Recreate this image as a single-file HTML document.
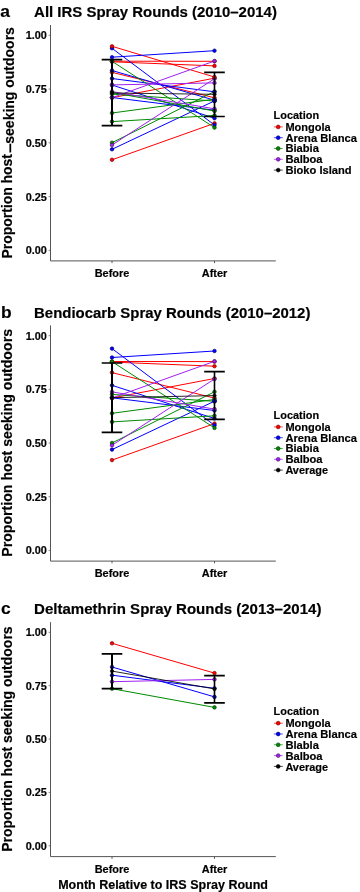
<!DOCTYPE html>
<html><head><meta charset="utf-8"><title>Figure</title>
<style>
html,body{margin:0;padding:0;background:#fff}
svg{display:block}
text{font-family:"Liberation Sans",sans-serif;font-weight:bold;fill:#000;stroke:#000;stroke-width:0.18px}
</style></head><body>
<svg width="360" height="892" viewBox="0 0 360 892">
<rect width="360" height="892" fill="#fff"/>
<text x="0.2" y="17.3" font-size="17.4">a</text>
<text x="34.1" y="17.3" font-size="14.5" textLength="242.8" lengthAdjust="spacingAndGlyphs">All IRS Spray Rounds (2010–2014)</text>
<path d="M50.5 25V260.9H275.8" stroke="#555555" stroke-width="1" fill="none"/>
<line x1="48.6" x2="50" y1="250.3" y2="250.3" stroke="#8a8a8a" stroke-width="1"/>
<text x="46.9" y="254.2" text-anchor="end" font-size="10.3" textLength="21.2" lengthAdjust="spacingAndGlyphs">0.00</text>
<line x1="48.6" x2="50" y1="196.6" y2="196.6" stroke="#8a8a8a" stroke-width="1"/>
<text x="46.9" y="200.5" text-anchor="end" font-size="10.3" textLength="21.2" lengthAdjust="spacingAndGlyphs">0.25</text>
<line x1="48.6" x2="50" y1="142.8" y2="142.8" stroke="#8a8a8a" stroke-width="1"/>
<text x="46.9" y="146.7" text-anchor="end" font-size="10.3" textLength="21.2" lengthAdjust="spacingAndGlyphs">0.50</text>
<line x1="48.6" x2="50" y1="89.1" y2="89.1" stroke="#8a8a8a" stroke-width="1"/>
<text x="46.9" y="93.0" text-anchor="end" font-size="10.3" textLength="21.2" lengthAdjust="spacingAndGlyphs">0.75</text>
<line x1="48.6" x2="50" y1="35.3" y2="35.3" stroke="#8a8a8a" stroke-width="1"/>
<text x="46.9" y="39.2" text-anchor="end" font-size="10.3" textLength="21.2" lengthAdjust="spacingAndGlyphs">1.00</text>
<line x1="112.0" x2="112.0" y1="260.9" y2="263.09999999999997" stroke="#555555" stroke-width="1"/>
<line x1="214.5" x2="214.5" y1="260.9" y2="263.09999999999997" stroke="#555555" stroke-width="1"/>
<text x="112.0" y="277.0" text-anchor="middle" font-size="10.4" textLength="34.6" lengthAdjust="spacingAndGlyphs">Before</text>
<text x="214.5" y="277.0" text-anchor="middle" font-size="10.4" textLength="25.5" lengthAdjust="spacingAndGlyphs">After</text>
<text transform="translate(11.9 258.5) rotate(-90)" font-size="13.9" textLength="104.4" lengthAdjust="spacingAndGlyphs">Proportion host</text>
<text transform="translate(15.3 153.3) rotate(-90)" font-size="13.9" textLength="9.8" lengthAdjust="spacingAndGlyphs">−</text>
<text transform="translate(14.1 143.7) rotate(-90)" font-size="13.9" textLength="116.6" lengthAdjust="spacingAndGlyphs">seeking outdoors</text>
<line x1="112.0" y1="46.3" x2="214.5" y2="77.0" stroke="#ff0000" stroke-width="1.0"/>
<line x1="112.0" y1="61.2" x2="214.5" y2="61.3" stroke="#ff0000" stroke-width="1.0"/>
<line x1="112.0" y1="61.8" x2="214.5" y2="65.9" stroke="#ff0000" stroke-width="1.0"/>
<line x1="112.0" y1="72.3" x2="214.5" y2="97.8" stroke="#ff0000" stroke-width="1.0"/>
<line x1="112.0" y1="97.7" x2="214.5" y2="78.2" stroke="#ff0000" stroke-width="1.0"/>
<line x1="112.0" y1="159.8" x2="214.5" y2="123.3" stroke="#ff0000" stroke-width="1.0"/>
<line x1="112.0" y1="48.3" x2="214.5" y2="125.0" stroke="#0000ff" stroke-width="1.0"/>
<line x1="112.0" y1="57.2" x2="214.5" y2="50.7" stroke="#0000ff" stroke-width="1.0"/>
<line x1="112.0" y1="70.5" x2="214.5" y2="100.2" stroke="#0000ff" stroke-width="1.0"/>
<line x1="112.0" y1="78.5" x2="214.5" y2="91.8" stroke="#0000ff" stroke-width="1.0"/>
<line x1="112.0" y1="85.0" x2="214.5" y2="118.2" stroke="#0000ff" stroke-width="1.0"/>
<line x1="112.0" y1="97.5" x2="214.5" y2="110.2" stroke="#0000ff" stroke-width="1.0"/>
<line x1="112.0" y1="149.3" x2="214.5" y2="100.9" stroke="#0000ff" stroke-width="1.0"/>
<line x1="112.0" y1="61.3" x2="214.5" y2="127.6" stroke="#008b00" stroke-width="1.0"/>
<line x1="112.0" y1="92.5" x2="214.5" y2="111.0" stroke="#008b00" stroke-width="1.0"/>
<line x1="112.0" y1="94.1" x2="214.5" y2="101.0" stroke="#008b00" stroke-width="1.0"/>
<line x1="112.0" y1="113.0" x2="214.5" y2="99.2" stroke="#008b00" stroke-width="1.0"/>
<line x1="112.0" y1="121.6" x2="214.5" y2="115.5" stroke="#008b00" stroke-width="1.0"/>
<line x1="112.0" y1="142.7" x2="214.5" y2="91.5" stroke="#008b00" stroke-width="1.0"/>
<line x1="112.0" y1="84.9" x2="214.5" y2="82.9" stroke="#a020f0" stroke-width="1.0"/>
<line x1="112.0" y1="91.6" x2="214.5" y2="108.8" stroke="#a020f0" stroke-width="1.0"/>
<line x1="112.0" y1="97.7" x2="214.5" y2="61.0" stroke="#a020f0" stroke-width="1.0"/>
<line x1="112.0" y1="145.0" x2="214.5" y2="78.7" stroke="#a020f0" stroke-width="1.0"/>
<circle cx="112.0" cy="61.2" r="1.8" fill="#ff0000" stroke="#6a0000" stroke-width="0.6"/><circle cx="214.5" cy="61.3" r="1.8" fill="#ff0000" stroke="#6a0000" stroke-width="0.6"/>
<circle cx="112.0" cy="61.8" r="1.8" fill="#ff0000" stroke="#6a0000" stroke-width="0.6"/><circle cx="214.5" cy="65.9" r="1.8" fill="#ff0000" stroke="#6a0000" stroke-width="0.6"/>
<circle cx="112.0" cy="72.3" r="1.8" fill="#ff0000" stroke="#6a0000" stroke-width="0.6"/><circle cx="214.5" cy="97.8" r="1.8" fill="#ff0000" stroke="#6a0000" stroke-width="0.6"/>
<circle cx="112.0" cy="97.7" r="1.8" fill="#ff0000" stroke="#6a0000" stroke-width="0.6"/><circle cx="214.5" cy="78.2" r="1.8" fill="#ff0000" stroke="#6a0000" stroke-width="0.6"/>
<circle cx="112.0" cy="159.8" r="1.8" fill="#ff0000" stroke="#6a0000" stroke-width="0.6"/><circle cx="214.5" cy="123.3" r="1.8" fill="#ff0000" stroke="#6a0000" stroke-width="0.6"/>
<circle cx="112.0" cy="48.3" r="1.8" fill="#0000ff" stroke="#00006a" stroke-width="0.6"/><circle cx="214.5" cy="125.0" r="1.8" fill="#0000ff" stroke="#00006a" stroke-width="0.6"/>
<circle cx="112.0" cy="57.2" r="1.8" fill="#0000ff" stroke="#00006a" stroke-width="0.6"/><circle cx="214.5" cy="50.7" r="1.8" fill="#0000ff" stroke="#00006a" stroke-width="0.6"/>
<circle cx="112.0" cy="85.0" r="1.8" fill="#0000ff" stroke="#00006a" stroke-width="0.6"/><circle cx="214.5" cy="118.2" r="1.8" fill="#0000ff" stroke="#00006a" stroke-width="0.6"/>
<circle cx="112.0" cy="97.5" r="1.8" fill="#0000ff" stroke="#00006a" stroke-width="0.6"/><circle cx="214.5" cy="110.2" r="1.8" fill="#0000ff" stroke="#00006a" stroke-width="0.6"/>
<circle cx="112.0" cy="149.3" r="1.8" fill="#0000ff" stroke="#00006a" stroke-width="0.6"/><circle cx="214.5" cy="100.9" r="1.8" fill="#0000ff" stroke="#00006a" stroke-width="0.6"/>
<circle cx="112.0" cy="61.3" r="1.8" fill="#008b00" stroke="#003400" stroke-width="0.6"/><circle cx="214.5" cy="127.6" r="1.8" fill="#008b00" stroke="#003400" stroke-width="0.6"/>
<circle cx="112.0" cy="94.1" r="1.8" fill="#008b00" stroke="#003400" stroke-width="0.6"/><circle cx="214.5" cy="101.0" r="1.8" fill="#008b00" stroke="#003400" stroke-width="0.6"/>
<circle cx="112.0" cy="113.0" r="1.8" fill="#008b00" stroke="#003400" stroke-width="0.6"/><circle cx="214.5" cy="99.2" r="1.8" fill="#008b00" stroke="#003400" stroke-width="0.6"/>
<circle cx="112.0" cy="121.6" r="1.8" fill="#008b00" stroke="#003400" stroke-width="0.6"/><circle cx="214.5" cy="115.5" r="1.8" fill="#008b00" stroke="#003400" stroke-width="0.6"/>
<circle cx="112.0" cy="142.7" r="1.8" fill="#008b00" stroke="#003400" stroke-width="0.6"/><circle cx="214.5" cy="91.5" r="1.8" fill="#008b00" stroke="#003400" stroke-width="0.6"/>
<circle cx="112.0" cy="91.6" r="1.8" fill="#a020f0" stroke="#430d66" stroke-width="0.6"/><circle cx="214.5" cy="108.8" r="1.8" fill="#a020f0" stroke="#430d66" stroke-width="0.6"/>
<circle cx="112.0" cy="97.7" r="1.8" fill="#a020f0" stroke="#430d66" stroke-width="0.6"/><circle cx="214.5" cy="61.0" r="1.8" fill="#a020f0" stroke="#430d66" stroke-width="0.6"/>
<circle cx="112.0" cy="145.0" r="1.8" fill="#a020f0" stroke="#430d66" stroke-width="0.6"/><circle cx="214.5" cy="78.7" r="1.8" fill="#a020f0" stroke="#430d66" stroke-width="0.6"/>
<circle cx="112.0" cy="46.3" r="1.8" fill="#ff0000" stroke="#6a0000" stroke-width="0.6"/><circle cx="214.5" cy="77.0" r="1.8" fill="#ff0000" stroke="#6a0000" stroke-width="0.6"/>
<circle cx="112.0" cy="70.5" r="1.8" fill="#0000ff" stroke="#00006a" stroke-width="0.6"/><circle cx="214.5" cy="100.2" r="1.8" fill="#0000ff" stroke="#00006a" stroke-width="0.6"/>
<circle cx="112.0" cy="78.5" r="1.8" fill="#0000ff" stroke="#00006a" stroke-width="0.6"/><circle cx="214.5" cy="91.8" r="1.8" fill="#0000ff" stroke="#00006a" stroke-width="0.6"/>
<circle cx="112.0" cy="92.5" r="1.8" fill="#008b00" stroke="#003400" stroke-width="0.6"/><circle cx="214.5" cy="111.0" r="1.8" fill="#008b00" stroke="#003400" stroke-width="0.6"/>
<circle cx="112.0" cy="84.9" r="1.8" fill="#a020f0" stroke="#430d66" stroke-width="0.6"/><circle cx="214.5" cy="82.9" r="1.8" fill="#a020f0" stroke="#430d66" stroke-width="0.6"/>
<circle cx="214.5" cy="100.4" r="2.0" fill="#0000ff" stroke="#00006a" stroke-width="0.6"/>
<line x1="112.0" y1="93.0" x2="214.5" y2="94.3" stroke="#000" stroke-width="0.85"/>
<circle cx="112.0" cy="93.0" r="1.7" fill="#000000" stroke="#000" stroke-width="0.6"/><circle cx="214.5" cy="94.3" r="1.7" fill="#000000" stroke="#000" stroke-width="0.6"/>
<path d="M101.7 59.7H122.3M101.7 125.7H122.3" stroke="#000" stroke-width="1.7" fill="none"/>
<path d="M112.0 59.7V125.7" stroke="#000" stroke-width="2.0" fill="none"/>
<path d="M204.2 72.3H224.8M204.2 116.5H224.8" stroke="#000" stroke-width="1.7" fill="none"/>
<path d="M214.5 72.3V116.5" stroke="#000" stroke-width="1.6" fill="none"/>
<text x="273.6" y="118.6" font-size="11" textLength="45.5" lengthAdjust="spacingAndGlyphs">Location</text>
<line x1="273.9" x2="282.8" y1="126.9" y2="126.9" stroke="#ff0000" stroke-width="0.7"/><circle cx="278.2" cy="126.9" r="1.9" fill="#ff0000" stroke="#6a0000" stroke-width="0.6"/>
<text x="285.4" y="130.6" font-size="11" textLength="45.2" lengthAdjust="spacingAndGlyphs">Mongola</text>
<line x1="273.9" x2="282.8" y1="137.7" y2="137.7" stroke="#0000ff" stroke-width="0.7"/><circle cx="278.2" cy="137.7" r="1.9" fill="#0000ff" stroke="#00006a" stroke-width="0.6"/>
<text x="285.4" y="141.5" font-size="11" textLength="71.6" lengthAdjust="spacingAndGlyphs">Arena Blanca</text>
<line x1="273.9" x2="282.8" y1="148.5" y2="148.5" stroke="#008b00" stroke-width="0.7"/><circle cx="278.2" cy="148.5" r="1.9" fill="#008b00" stroke="#003400" stroke-width="0.6"/>
<text x="285.4" y="152.4" font-size="11" textLength="33.5" lengthAdjust="spacingAndGlyphs">Biabia</text>
<line x1="273.9" x2="282.8" y1="159.3" y2="159.3" stroke="#a020f0" stroke-width="0.7"/><circle cx="278.2" cy="159.3" r="1.9" fill="#a020f0" stroke="#430d66" stroke-width="0.6"/>
<text x="285.4" y="163.3" font-size="11" textLength="37.2" lengthAdjust="spacingAndGlyphs">Balboa</text>
<line x1="273.9" x2="282.8" y1="170.1" y2="170.1" stroke="#000000" stroke-width="0.7"/><circle cx="278.2" cy="170.1" r="1.9" fill="#000000" stroke="#000" stroke-width="0.6"/>
<text x="285.4" y="174.2" font-size="11" textLength="66.2" lengthAdjust="spacingAndGlyphs">Bioko Island</text>
<text x="0.9" y="317.5" font-size="17.4">b</text>
<text x="34.1" y="317.5" font-size="14.5" textLength="276.3" lengthAdjust="spacingAndGlyphs">Bendiocarb Spray Rounds (2010–2012)</text>
<path d="M50.5 325.4V561.1H275.8" stroke="#555555" stroke-width="1" fill="none"/>
<line x1="48.6" x2="50" y1="550.4" y2="550.4" stroke="#8a8a8a" stroke-width="1"/>
<text x="46.9" y="554.3" text-anchor="end" font-size="10.3" textLength="21.2" lengthAdjust="spacingAndGlyphs">0.00</text>
<line x1="48.6" x2="50" y1="496.7" y2="496.7" stroke="#8a8a8a" stroke-width="1"/>
<text x="46.9" y="500.6" text-anchor="end" font-size="10.3" textLength="21.2" lengthAdjust="spacingAndGlyphs">0.25</text>
<line x1="48.6" x2="50" y1="443.0" y2="443.0" stroke="#8a8a8a" stroke-width="1"/>
<text x="46.9" y="446.9" text-anchor="end" font-size="10.3" textLength="21.2" lengthAdjust="spacingAndGlyphs">0.50</text>
<line x1="48.6" x2="50" y1="389.4" y2="389.4" stroke="#8a8a8a" stroke-width="1"/>
<text x="46.9" y="393.3" text-anchor="end" font-size="10.3" textLength="21.2" lengthAdjust="spacingAndGlyphs">0.75</text>
<line x1="48.6" x2="50" y1="335.7" y2="335.7" stroke="#8a8a8a" stroke-width="1"/>
<text x="46.9" y="339.6" text-anchor="end" font-size="10.3" textLength="21.2" lengthAdjust="spacingAndGlyphs">1.00</text>
<line x1="112.0" x2="112.0" y1="561.1" y2="563.3000000000001" stroke="#555555" stroke-width="1"/>
<line x1="214.5" x2="214.5" y1="561.1" y2="563.3000000000001" stroke="#555555" stroke-width="1"/>
<text x="112.0" y="577.2" text-anchor="middle" font-size="10.4" textLength="34.6" lengthAdjust="spacingAndGlyphs">Before</text>
<text x="214.5" y="577.2" text-anchor="middle" font-size="10.4" textLength="25.5" lengthAdjust="spacingAndGlyphs">After</text>
<text transform="translate(11.9 442.9) rotate(-90)" text-anchor="middle" font-size="13.9" textLength="227.8" lengthAdjust="spacingAndGlyphs">Proportion host seeking outdoors</text>
<line x1="112.0" y1="361.5" x2="214.5" y2="361.6" stroke="#ff0000" stroke-width="1.0"/>
<line x1="112.0" y1="362.1" x2="214.5" y2="366.2" stroke="#ff0000" stroke-width="1.0"/>
<line x1="112.0" y1="372.6" x2="214.5" y2="398.1" stroke="#ff0000" stroke-width="1.0"/>
<line x1="112.0" y1="398.0" x2="214.5" y2="378.5" stroke="#ff0000" stroke-width="1.0"/>
<line x1="112.0" y1="460.1" x2="214.5" y2="423.6" stroke="#ff0000" stroke-width="1.0"/>
<line x1="112.0" y1="348.6" x2="214.5" y2="425.3" stroke="#0000ff" stroke-width="1.0"/>
<line x1="112.0" y1="357.5" x2="214.5" y2="351.0" stroke="#0000ff" stroke-width="1.0"/>
<line x1="112.0" y1="385.3" x2="214.5" y2="418.5" stroke="#0000ff" stroke-width="1.0"/>
<line x1="112.0" y1="397.8" x2="214.5" y2="410.5" stroke="#0000ff" stroke-width="1.0"/>
<line x1="112.0" y1="449.6" x2="214.5" y2="401.2" stroke="#0000ff" stroke-width="1.0"/>
<line x1="112.0" y1="361.6" x2="214.5" y2="427.9" stroke="#008b00" stroke-width="1.0"/>
<line x1="112.0" y1="394.4" x2="214.5" y2="401.3" stroke="#008b00" stroke-width="1.0"/>
<line x1="112.0" y1="413.3" x2="214.5" y2="399.5" stroke="#008b00" stroke-width="1.0"/>
<line x1="112.0" y1="421.9" x2="214.5" y2="415.8" stroke="#008b00" stroke-width="1.0"/>
<line x1="112.0" y1="443.0" x2="214.5" y2="391.8" stroke="#008b00" stroke-width="1.0"/>
<line x1="112.0" y1="391.9" x2="214.5" y2="409.1" stroke="#a020f0" stroke-width="1.0"/>
<line x1="112.0" y1="398.0" x2="214.5" y2="361.3" stroke="#a020f0" stroke-width="1.0"/>
<line x1="112.0" y1="445.3" x2="214.5" y2="379.0" stroke="#a020f0" stroke-width="1.0"/>
<circle cx="112.0" cy="361.5" r="1.8" fill="#ff0000" stroke="#6a0000" stroke-width="0.6"/><circle cx="214.5" cy="361.6" r="1.8" fill="#ff0000" stroke="#6a0000" stroke-width="0.6"/>
<circle cx="112.0" cy="362.1" r="1.8" fill="#ff0000" stroke="#6a0000" stroke-width="0.6"/><circle cx="214.5" cy="366.2" r="1.8" fill="#ff0000" stroke="#6a0000" stroke-width="0.6"/>
<circle cx="112.0" cy="372.6" r="1.8" fill="#ff0000" stroke="#6a0000" stroke-width="0.6"/><circle cx="214.5" cy="398.1" r="1.8" fill="#ff0000" stroke="#6a0000" stroke-width="0.6"/>
<circle cx="112.0" cy="398.0" r="1.8" fill="#ff0000" stroke="#6a0000" stroke-width="0.6"/><circle cx="214.5" cy="378.5" r="1.8" fill="#ff0000" stroke="#6a0000" stroke-width="0.6"/>
<circle cx="112.0" cy="460.1" r="1.8" fill="#ff0000" stroke="#6a0000" stroke-width="0.6"/><circle cx="214.5" cy="423.6" r="1.8" fill="#ff0000" stroke="#6a0000" stroke-width="0.6"/>
<circle cx="112.0" cy="348.6" r="1.8" fill="#0000ff" stroke="#00006a" stroke-width="0.6"/><circle cx="214.5" cy="425.3" r="1.8" fill="#0000ff" stroke="#00006a" stroke-width="0.6"/>
<circle cx="112.0" cy="357.5" r="1.8" fill="#0000ff" stroke="#00006a" stroke-width="0.6"/><circle cx="214.5" cy="351.0" r="1.8" fill="#0000ff" stroke="#00006a" stroke-width="0.6"/>
<circle cx="112.0" cy="385.3" r="1.8" fill="#0000ff" stroke="#00006a" stroke-width="0.6"/><circle cx="214.5" cy="418.5" r="1.8" fill="#0000ff" stroke="#00006a" stroke-width="0.6"/>
<circle cx="112.0" cy="397.8" r="1.8" fill="#0000ff" stroke="#00006a" stroke-width="0.6"/><circle cx="214.5" cy="410.5" r="1.8" fill="#0000ff" stroke="#00006a" stroke-width="0.6"/>
<circle cx="112.0" cy="449.6" r="1.8" fill="#0000ff" stroke="#00006a" stroke-width="0.6"/><circle cx="214.5" cy="401.2" r="1.8" fill="#0000ff" stroke="#00006a" stroke-width="0.6"/>
<circle cx="112.0" cy="361.6" r="1.8" fill="#008b00" stroke="#003400" stroke-width="0.6"/><circle cx="214.5" cy="427.9" r="1.8" fill="#008b00" stroke="#003400" stroke-width="0.6"/>
<circle cx="112.0" cy="394.4" r="1.8" fill="#008b00" stroke="#003400" stroke-width="0.6"/><circle cx="214.5" cy="401.3" r="1.8" fill="#008b00" stroke="#003400" stroke-width="0.6"/>
<circle cx="112.0" cy="413.3" r="1.8" fill="#008b00" stroke="#003400" stroke-width="0.6"/><circle cx="214.5" cy="399.5" r="1.8" fill="#008b00" stroke="#003400" stroke-width="0.6"/>
<circle cx="112.0" cy="421.9" r="1.8" fill="#008b00" stroke="#003400" stroke-width="0.6"/><circle cx="214.5" cy="415.8" r="1.8" fill="#008b00" stroke="#003400" stroke-width="0.6"/>
<circle cx="112.0" cy="443.0" r="1.8" fill="#008b00" stroke="#003400" stroke-width="0.6"/><circle cx="214.5" cy="391.8" r="1.8" fill="#008b00" stroke="#003400" stroke-width="0.6"/>
<circle cx="112.0" cy="391.9" r="1.8" fill="#a020f0" stroke="#430d66" stroke-width="0.6"/><circle cx="214.5" cy="409.1" r="1.8" fill="#a020f0" stroke="#430d66" stroke-width="0.6"/>
<circle cx="112.0" cy="398.0" r="1.8" fill="#a020f0" stroke="#430d66" stroke-width="0.6"/><circle cx="214.5" cy="361.3" r="1.8" fill="#a020f0" stroke="#430d66" stroke-width="0.6"/>
<circle cx="112.0" cy="445.3" r="1.8" fill="#a020f0" stroke="#430d66" stroke-width="0.6"/><circle cx="214.5" cy="379.0" r="1.8" fill="#a020f0" stroke="#430d66" stroke-width="0.6"/>
<circle cx="214.5" cy="401.1" r="2.0" fill="#0000ff" stroke="#00006a" stroke-width="0.6"/>
<line x1="112.0" y1="397.7" x2="214.5" y2="395.6" stroke="#000" stroke-width="0.85"/>
<circle cx="112.0" cy="397.7" r="1.7" fill="#000000" stroke="#000" stroke-width="0.6"/><circle cx="214.5" cy="395.6" r="1.7" fill="#000000" stroke="#000" stroke-width="0.6"/>
<path d="M101.7 363H122.3M101.7 432.4H122.3" stroke="#000" stroke-width="1.7" fill="none"/>
<path d="M112.0 363V432.4" stroke="#000" stroke-width="2.0" fill="none"/>
<path d="M204.2 371.7H224.8M204.2 419.4H224.8" stroke="#000" stroke-width="1.7" fill="none"/>
<path d="M214.5 371.7V419.4" stroke="#000" stroke-width="1.6" fill="none"/>
<text x="273.6" y="418.6" font-size="11" textLength="45.5" lengthAdjust="spacingAndGlyphs">Location</text>
<line x1="273.9" x2="282.8" y1="426.9" y2="426.9" stroke="#ff0000" stroke-width="0.7"/><circle cx="278.2" cy="426.9" r="1.9" fill="#ff0000" stroke="#6a0000" stroke-width="0.6"/>
<text x="285.4" y="430.6" font-size="11" textLength="45.2" lengthAdjust="spacingAndGlyphs">Mongola</text>
<line x1="273.9" x2="282.8" y1="437.7" y2="437.7" stroke="#0000ff" stroke-width="0.7"/><circle cx="278.2" cy="437.7" r="1.9" fill="#0000ff" stroke="#00006a" stroke-width="0.6"/>
<text x="285.4" y="441.5" font-size="11" textLength="71.6" lengthAdjust="spacingAndGlyphs">Arena Blanca</text>
<line x1="273.9" x2="282.8" y1="448.5" y2="448.5" stroke="#008b00" stroke-width="0.7"/><circle cx="278.2" cy="448.5" r="1.9" fill="#008b00" stroke="#003400" stroke-width="0.6"/>
<text x="285.4" y="452.4" font-size="11" textLength="33.5" lengthAdjust="spacingAndGlyphs">Biabia</text>
<line x1="273.9" x2="282.8" y1="459.3" y2="459.3" stroke="#a020f0" stroke-width="0.7"/><circle cx="278.2" cy="459.3" r="1.9" fill="#a020f0" stroke="#430d66" stroke-width="0.6"/>
<text x="285.4" y="463.3" font-size="11" textLength="37.2" lengthAdjust="spacingAndGlyphs">Balboa</text>
<line x1="273.9" x2="282.8" y1="470.1" y2="470.1" stroke="#000000" stroke-width="0.7"/><circle cx="278.2" cy="470.1" r="1.9" fill="#000000" stroke="#000" stroke-width="0.6"/>
<text x="285.4" y="474.2" font-size="11" textLength="42.6" lengthAdjust="spacingAndGlyphs">Average</text>
<text x="0.9" y="614.1" font-size="17.4">c</text>
<text x="34.1" y="614.1" font-size="14.5" textLength="287.3" lengthAdjust="spacingAndGlyphs">Deltamethrin Spray Rounds (2013–2014)</text>
<path d="M50.5 622.2V856.6H275.8" stroke="#555555" stroke-width="1" fill="none"/>
<line x1="48.6" x2="50" y1="845.8" y2="845.8" stroke="#8a8a8a" stroke-width="1"/>
<text x="46.9" y="849.7" text-anchor="end" font-size="10.3" textLength="21.2" lengthAdjust="spacingAndGlyphs">0.00</text>
<line x1="48.6" x2="50" y1="792.4" y2="792.4" stroke="#8a8a8a" stroke-width="1"/>
<text x="46.9" y="796.3" text-anchor="end" font-size="10.3" textLength="21.2" lengthAdjust="spacingAndGlyphs">0.25</text>
<line x1="48.6" x2="50" y1="739.0" y2="739.0" stroke="#8a8a8a" stroke-width="1"/>
<text x="46.9" y="742.9" text-anchor="end" font-size="10.3" textLength="21.2" lengthAdjust="spacingAndGlyphs">0.50</text>
<line x1="48.6" x2="50" y1="685.7" y2="685.7" stroke="#8a8a8a" stroke-width="1"/>
<text x="46.9" y="689.6" text-anchor="end" font-size="10.3" textLength="21.2" lengthAdjust="spacingAndGlyphs">0.75</text>
<line x1="48.6" x2="50" y1="632.3" y2="632.3" stroke="#8a8a8a" stroke-width="1"/>
<text x="46.9" y="636.2" text-anchor="end" font-size="10.3" textLength="21.2" lengthAdjust="spacingAndGlyphs">1.00</text>
<line x1="112.0" x2="112.0" y1="856.6" y2="858.8000000000001" stroke="#555555" stroke-width="1"/>
<line x1="214.5" x2="214.5" y1="856.6" y2="858.8000000000001" stroke="#555555" stroke-width="1"/>
<text x="112.0" y="873.3" text-anchor="middle" font-size="10.4" textLength="34.6" lengthAdjust="spacingAndGlyphs">Before</text>
<text x="214.5" y="873.3" text-anchor="middle" font-size="10.4" textLength="25.5" lengthAdjust="spacingAndGlyphs">After</text>
<text transform="translate(11.9 739.1) rotate(-90)" text-anchor="middle" font-size="13.9" textLength="225.4" lengthAdjust="spacingAndGlyphs">Proportion host seeking outdoors</text>
<line x1="112.0" y1="643.3" x2="214.5" y2="673.1" stroke="#ff0000" stroke-width="1.0"/>
<line x1="112.0" y1="667.0" x2="214.5" y2="696.9" stroke="#0000ff" stroke-width="1.0"/>
<line x1="112.0" y1="675.2" x2="214.5" y2="688.3" stroke="#0000ff" stroke-width="1.0"/>
<line x1="112.0" y1="688.7" x2="214.5" y2="707.4" stroke="#008b00" stroke-width="1.0"/>
<line x1="112.0" y1="681.7" x2="214.5" y2="679.4" stroke="#a020f0" stroke-width="1.0"/>
<circle cx="112.0" cy="643.3" r="1.8" fill="#ff0000" stroke="#6a0000" stroke-width="0.6"/><circle cx="214.5" cy="673.1" r="1.8" fill="#ff0000" stroke="#6a0000" stroke-width="0.6"/>
<circle cx="112.0" cy="667.0" r="1.8" fill="#0000ff" stroke="#00006a" stroke-width="0.6"/><circle cx="214.5" cy="696.9" r="1.8" fill="#0000ff" stroke="#00006a" stroke-width="0.6"/>
<circle cx="112.0" cy="675.2" r="1.8" fill="#0000ff" stroke="#00006a" stroke-width="0.6"/><circle cx="214.5" cy="688.3" r="1.8" fill="#0000ff" stroke="#00006a" stroke-width="0.6"/>
<circle cx="112.0" cy="688.7" r="1.8" fill="#008b00" stroke="#003400" stroke-width="0.6"/><circle cx="214.5" cy="707.4" r="1.8" fill="#008b00" stroke="#003400" stroke-width="0.6"/>
<circle cx="112.0" cy="681.7" r="1.8" fill="#a020f0" stroke="#430d66" stroke-width="0.6"/><circle cx="214.5" cy="679.4" r="1.8" fill="#a020f0" stroke="#430d66" stroke-width="0.6"/>
<line x1="112.0" y1="671.1" x2="214.5" y2="688.9" stroke="#000" stroke-width="0.85"/>
<circle cx="112.0" cy="671.1" r="1.7" fill="#000000" stroke="#000" stroke-width="0.6"/><circle cx="214.5" cy="688.9" r="1.7" fill="#000000" stroke="#000" stroke-width="0.6"/>
<path d="M101.7 653.9H122.3M101.7 688.7H122.3" stroke="#000" stroke-width="1.7" fill="none"/>
<path d="M112.0 653.9V688.7" stroke="#000" stroke-width="2.0" fill="none"/>
<path d="M204.2 675.6H224.8M204.2 702.8H224.8" stroke="#000" stroke-width="1.7" fill="none"/>
<path d="M214.5 675.6V702.8" stroke="#000" stroke-width="1.6" fill="none"/>
<text x="273.6" y="714.9" font-size="11" textLength="45.5" lengthAdjust="spacingAndGlyphs">Location</text>
<line x1="273.9" x2="282.8" y1="723.2" y2="723.2" stroke="#ff0000" stroke-width="0.7"/><circle cx="278.2" cy="723.2" r="1.9" fill="#ff0000" stroke="#6a0000" stroke-width="0.6"/>
<text x="285.4" y="726.9" font-size="11" textLength="45.2" lengthAdjust="spacingAndGlyphs">Mongola</text>
<line x1="273.9" x2="282.8" y1="734.0" y2="734.0" stroke="#0000ff" stroke-width="0.7"/><circle cx="278.2" cy="734.0" r="1.9" fill="#0000ff" stroke="#00006a" stroke-width="0.6"/>
<text x="285.4" y="737.8" font-size="11" textLength="71.6" lengthAdjust="spacingAndGlyphs">Arena Blanca</text>
<line x1="273.9" x2="282.8" y1="744.8" y2="744.8" stroke="#008b00" stroke-width="0.7"/><circle cx="278.2" cy="744.8" r="1.9" fill="#008b00" stroke="#003400" stroke-width="0.6"/>
<text x="285.4" y="748.7" font-size="11" textLength="33.5" lengthAdjust="spacingAndGlyphs">Blabla</text>
<line x1="273.9" x2="282.8" y1="755.6" y2="755.6" stroke="#a020f0" stroke-width="0.7"/><circle cx="278.2" cy="755.6" r="1.9" fill="#a020f0" stroke="#430d66" stroke-width="0.6"/>
<text x="285.4" y="759.6" font-size="11" textLength="37.2" lengthAdjust="spacingAndGlyphs">Balboa</text>
<line x1="273.9" x2="282.8" y1="766.4" y2="766.4" stroke="#000000" stroke-width="0.7"/><circle cx="278.2" cy="766.4" r="1.9" fill="#000000" stroke="#000" stroke-width="0.6"/>
<text x="285.4" y="770.5" font-size="11" textLength="42.6" lengthAdjust="spacingAndGlyphs">Average</text>
<text x="58.2" y="889.1" font-size="12.5" textLength="209.8" lengthAdjust="spacingAndGlyphs">Month Relative to IRS Spray Round</text>
</svg>
</body></html>
